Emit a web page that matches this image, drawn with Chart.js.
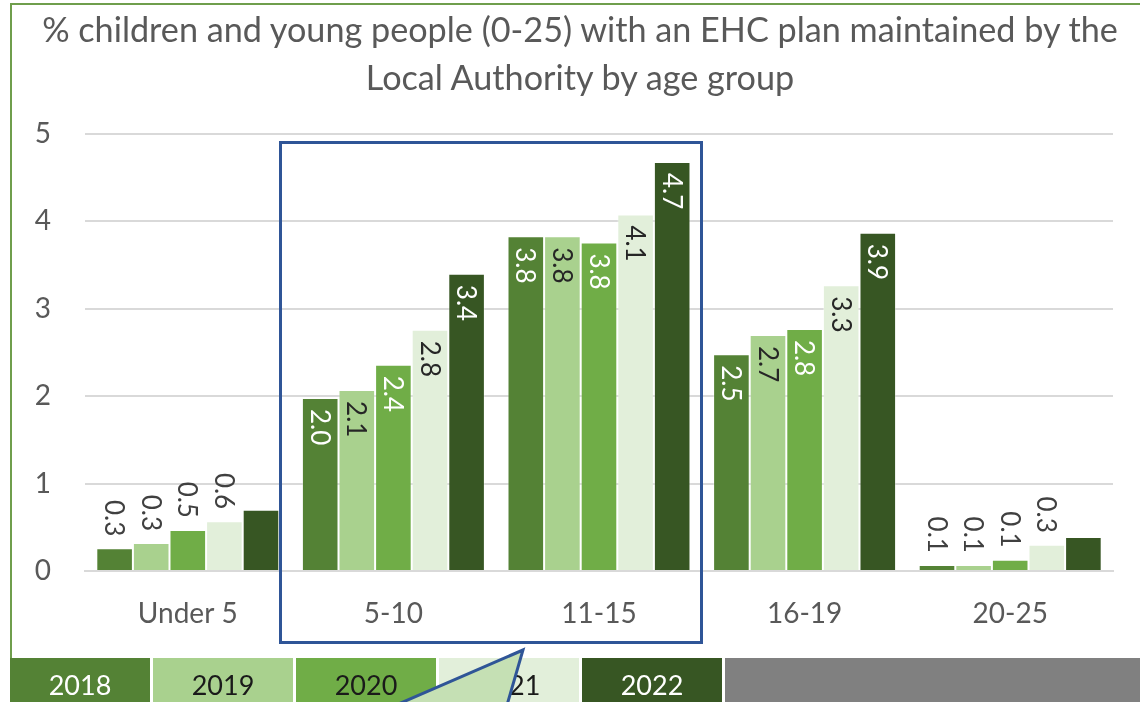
<!DOCTYPE html>
<html><head><meta charset="utf-8">
<script src="https://cdn.jsdelivr.net/npm/chart.js@4"></script>
<style>
html,body{margin:0;padding:0;background:#fff;}
#wrap{position:relative;width:1140px;height:702px;overflow:hidden;font-family:Lato,"Open Sans",sans-serif;}
#frame{position:absolute;left:10px;top:3px;width:1200px;height:720px;border-left:2px solid #6F9E4C;border-top:2px solid #6F9E4C;box-sizing:border-box;}
#title{position:absolute;left:12px;width:1136px;top:5px;text-align:center;color:#595959;font-size:34.2px;line-height:48px;white-space:nowrap;}
#chartBox{position:absolute;left:0;top:0;width:1140px;height:702px;}
#legend{position:absolute;left:10px;top:658px;height:44px;display:flex;}
.item{height:44px;width:140px;margin-right:3px;text-align:center;font-size:27px;line-height:54px;}
#overlay{position:absolute;left:0;top:0;}
</style>
</head><body>
<div id="wrap">
  <div id="frame"></div>
  <div id="chartBox"><canvas id="c" width="1140" height="702"></canvas></div>
  <div id="title">% children and young people (0-25) with an EHC plan maintained by the<br>Local Authority by age group</div>
  <div id="legend"></div>
  <svg id="overlay" width="1140" height="702">
    <rect x="280.5" y="142.5" width="421" height="500" fill="none" stroke="#2F5597" stroke-width="3"/>
    <polygon points="523,650 380,712 505,712" fill="#C5E0B4" stroke="#2F5597" stroke-width="3" stroke-linejoin="miter"/>
  </svg>
</div>
<script>
const categories = ['Under 5', '5-10', '11-15', '16-19', '20-25'];
const years = ['2018', '2019', '2020', '2021', '2022'];
const v2018 = [0.26, 1.98, 3.83, 2.48, 0.07];
const v2019 = [0.32, 2.07, 3.83, 2.70, 0.07];
const v2020 = [0.47, 2.36, 3.76, 2.77, 0.13];
const v2021 = [0.57, 2.76, 4.08, 3.27, 0.30];
const v2022 = [0.70, 3.40, 4.68, 3.87, 0.39];
const yTicks = [0, 1, 2, 3, 4, 5];
// data labels that are not shown in the original: [seriesIndex, categoryIndex]
const hiddenLabels = [[4, 0], [4, 4]];

const seriesValues = [v2018, v2019, v2020, v2021, v2022];
const colors = ['#548235', '#A9D18E', '#70AD47', '#E2EFDA', '#375623'];
const insideText = ['#FFFFFF', '#262626', '#FFFFFF', '#262626', '#FFFFFF'];
const legendText = ['#FFFFFF', '#1a1a1a', '#1a1a1a', '#1a1a1a', '#FFFFFF'];

const FONT = 'Lato, "Open Sans", sans-serif';

// legend as table-like colored cells
const leg = document.getElementById('legend');
years.forEach((y, i) => {
  const d = document.createElement('div');
  d.className = 'item';
  d.style.background = colors[i];
  d.style.color = legendText[i];
  d.textContent = y;
  leg.appendChild(d);
});
const g = document.createElement('div');
g.className = 'item';
g.style.background = '#808080';
g.style.width = '420px';
leg.appendChild(g);

const barLabels = {
  id: 'barLabels',
  afterDatasetsDraw(chart) {
    const ctx = chart.ctx;
    chart.data.datasets.forEach((ds, di) => {
      const meta = chart.getDatasetMeta(di);
      meta.data.forEach((bar, i) => {
        if (hiddenLabels.some(h => h[0] === di && h[1] === i)) return;
        const txt = ds.data[i].toFixed(1);
        ctx.save();
        ctx.font = '26px ' + FONT;
        const w = ctx.measureText(txt).width;
        const inside = (bar.base - bar.y) > w + 26;
        const y0 = inside ? bar.y + 11 : bar.y - 12 - w;
        ctx.translate(bar.x, y0);
        ctx.rotate(Math.PI / 2);
        ctx.textAlign = 'left';
        ctx.textBaseline = 'middle';
        ctx.fillStyle = inside ? insideText[di] : '#404040';
        ctx.fillText(txt, 0, 1);
        ctx.restore();
      });
    });
  }
};

new Chart(document.getElementById('c'), {
  type: 'bar',
  data: {
    labels: categories,
    datasets: years.map((y, i) => ({
      label: y,
      data: seriesValues[i],
      backgroundColor: colors[i],
      borderColor: 'rgba(255,255,255,0.35)',
      borderWidth: 1,
      categoryPercentage: 0.89,
      barPercentage: 1.0
    }))
  },
  options: {
    responsive: false,
    animation: false,
    layout: { padding: { left: 12, right: 27, top: 134, bottom: 44 } },
    plugins: { legend: { display: false }, title: { display: false }, tooltip: { enabled: false } },
    scales: {
      y: {
        min: 0, max: 5,
        afterBuildTicks(axis) { axis.ticks = yTicks.map(v => ({ value: v })); },
        afterFit(axis) { axis.width = 73; },
        border: { display: false },
        grid: { color: '#D9D9D9', lineWidth: 2, drawTicks: false },
        ticks: { color: '#595959', font: { size: 28, family: FONT }, padding: 34 }
      },
      x: {
        afterFit(axis) { axis.height = 87; },
        border: { display: true, color: '#D9D9D9', width: 2 },
        grid: { display: false, drawTicks: false },
        ticks: { color: '#595959', font: { size: 28, family: FONT }, padding: 26 }
      }
    }
  },
  plugins: [barLabels]
});
</script>
</body></html>
